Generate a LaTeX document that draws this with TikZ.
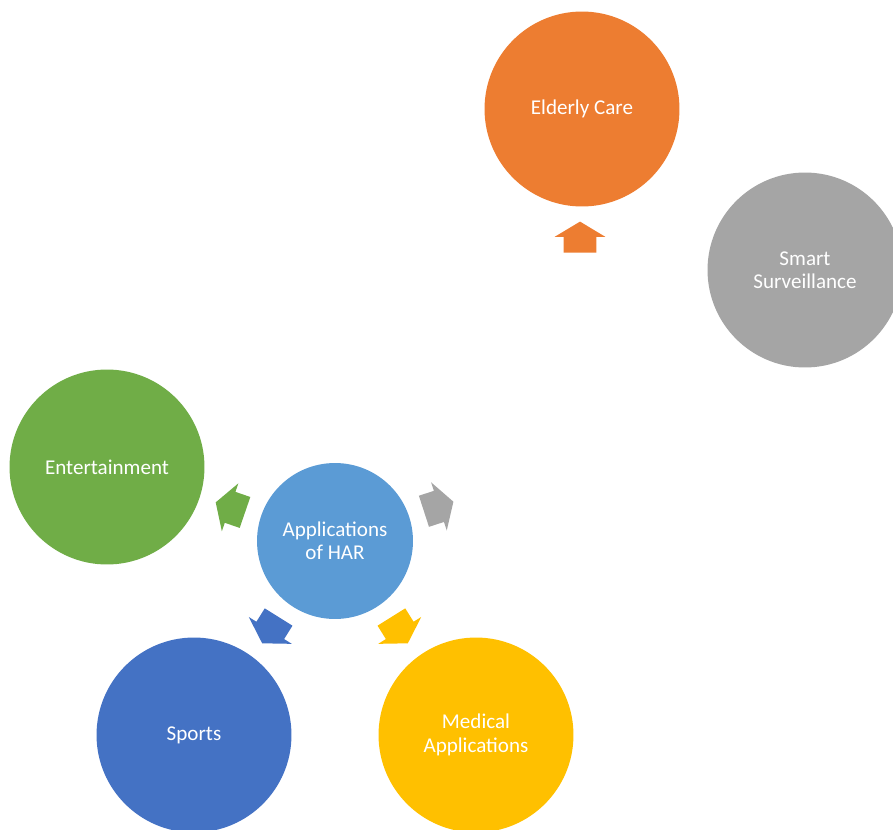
\documentclass[tikz,border=0pt]{standalone}
\usepackage{fontspec}
\setmainfont{Carlito}
\usepackage{tikz}
\usetikzlibrary{shapes.arrows}

\definecolor{harblue}{HTML}{5B9BD5}
\definecolor{harorange}{HTML}{ED7D31}
\definecolor{hargray}{HTML}{A5A5A5}
\definecolor{hargreen}{HTML}{70AD47}
\definecolor{hardblue}{HTML}{4472C4}
\definecolor{haryellow}{HTML}{FFC000}

\begin{document}
\begin{tikzpicture}[x=0.02cm, y=-0.02cm,
    circ/.style={circle, minimum size=3.9cm, inner sep=0pt, text=white, align=center,
      font=\fontsize{12}{13.3}\selectfont},
    blk/.style={single arrow, inner xsep=0pt, inner ysep=0.32cm, minimum height=0.62cm,
      minimum width=1cm, single arrow head extend=0.18cm, single arrow tip angle=118}]

    \useasboundingbox (0,0) rectangle (893,829);

    % centre
    \draw (335,541) node[circ, fill=harblue, minimum size=3.12cm] (A) {Applications\\of HAR};

    % outer circles
    \draw (582,109) node[circ, fill=harorange] (B) {Elderly Care};
    \draw (805,270) node[circ, fill=hargray] (C) {Smart\\Surveillance};
    \draw (107,467) node[circ, fill=hargreen] (D) {Entertainment};
    \draw (194,735) node[circ, fill=hardblue] (E) {Sports};
    \draw (476,735) node[circ, fill=haryellow] (F) {Medical\\Applications};

    % arrows
    \draw (580,242) node[blk, fill=harorange, rotate=90] (G) {};
    \draw (434,508) node[blk, fill=hargray, rotate=18] (H) {};
    \draw (235,509) node[blk, fill=hargreen, rotate=161] (I) {};
    \draw (273,626) node[blk, fill=hardblue, rotate=-122] (J) {};
    \draw (397,626) node[blk, fill=haryellow, rotate=-58] (K) {};

\end{tikzpicture}
\end{document}
